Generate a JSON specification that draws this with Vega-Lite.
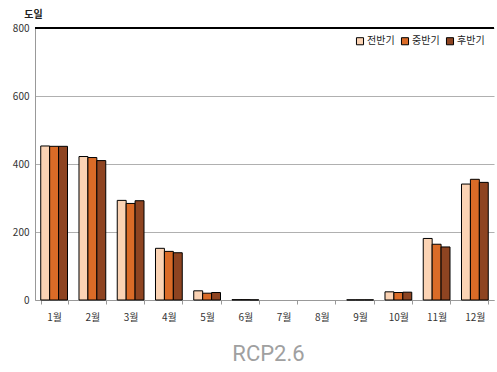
{
  "$schema": "https://vega.github.io/schema/vega-lite/v6.json",
  "width": 459,
  "height": 272,
  "autosize": {"type": "none"},
  "padding": {"left": 35, "top": 28, "right": 3, "bottom": 72},
  "background": "white",
  "config": {
    "view": {"stroke": null},
    "font": "Noto Sans CJK KR"
  },
  "title": {
    "text": "RCP2.6",
    "orient": "bottom",
    "anchor": "middle",
    "fontSize": 22,
    "font": "Roboto",
    "fontWeight": "normal",
    "color": "#a0a0a0",
    "offset": 22,
    "dx": 4
  },
  "data": {
    "values": [
      {"month": "1월", "period": "전반기", "value": 453},
      {"month": "1월", "period": "중반기", "value": 452},
      {"month": "1월", "period": "후반기", "value": 452},
      {"month": "2월", "period": "전반기", "value": 422},
      {"month": "2월", "period": "중반기", "value": 419},
      {"month": "2월", "period": "후반기", "value": 410},
      {"month": "3월", "period": "전반기", "value": 293},
      {"month": "3월", "period": "중반기", "value": 284},
      {"month": "3월", "period": "후반기", "value": 292},
      {"month": "4월", "period": "전반기", "value": 152},
      {"month": "4월", "period": "중반기", "value": 143},
      {"month": "4월", "period": "후반기", "value": 139},
      {"month": "5월", "period": "전반기", "value": 27},
      {"month": "5월", "period": "중반기", "value": 20},
      {"month": "5월", "period": "후반기", "value": 22},
      {"month": "6월", "period": "전반기", "value": 1},
      {"month": "6월", "period": "중반기", "value": 1},
      {"month": "6월", "period": "후반기", "value": 0.5},
      {"month": "7월", "period": "전반기", "value": null},
      {"month": "7월", "period": "중반기", "value": null},
      {"month": "7월", "period": "후반기", "value": null},
      {"month": "8월", "period": "전반기", "value": null},
      {"month": "8월", "period": "중반기", "value": null},
      {"month": "8월", "period": "후반기", "value": null},
      {"month": "9월", "period": "전반기", "value": 0.5},
      {"month": "9월", "period": "중반기", "value": 0.5},
      {"month": "9월", "period": "후반기", "value": 0.5},
      {"month": "10월", "period": "전반기", "value": 24},
      {"month": "10월", "period": "중반기", "value": 22},
      {"month": "10월", "period": "후반기", "value": 23},
      {"month": "11월", "period": "전반기", "value": 181},
      {"month": "11월", "period": "중반기", "value": 164},
      {"month": "11월", "period": "후반기", "value": 156},
      {"month": "12월", "period": "전반기", "value": 341},
      {"month": "12월", "period": "중반기", "value": 355},
      {"month": "12월", "period": "후반기", "value": 346}
    ]
  },
  "layer": [
    {
      "mark": {"type": "bar", "stroke": "black", "strokeWidth": 1},
      "encoding": {
        "x": {
          "field": "month",
          "type": "nominal",
          "sort": null,
          "scale": {
            "domain": ["1월", "2월", "3월", "4월", "5월", "6월", "7월", "8월", "9월", "10월", "11월", "12월"],
            "paddingInner": 0.3,
            "paddingOuter": 0.15
          },
          "axis": {
            "title": null,
            "labelAngle": 0,
            "labelFontSize": 10,
            "labelColor": "#333",
            "labelPadding": 8,
            "domainColor": "#999",
            "tickColor": "#999",
            "tickSize": 4,
            "tickBand": "extent"
          }
        },
        "xOffset": {"field": "period", "type": "nominal", "sort": ["전반기", "중반기", "후반기"]},
        "y": {
          "field": "value",
          "type": "quantitative",
          "scale": {"domain": [0, 800]},
          "axis": {
            "values": [0, 200, 400, 600, 800],
            "title": "도일",
            "titleAngle": 0,
            "titleX": -2,
            "titleY": -14,
            "titleAlign": "center",
            "titleBaseline": "middle",
            "titleFontSize": 10,
            "titleFontWeight": "bold",
            "titleColor": "#222",
            "labelFontSize": 10,
            "labelColor": "#333",
            "labelPadding": 6,
            "ticks": false,
            "domainColor": "#999",
            "gridColor": "#b0b0b0",
            "gridWidth": 1.2
          }
        },
        "color": {
          "field": "period",
          "type": "nominal",
          "sort": ["전반기", "중반기", "후반기"],
          "scale": {"domain": ["전반기", "중반기", "후반기"], "range": ["#FBD3B4", "#DA6B27", "#8E4421"]},
          "legend": {
            "title": null,
            "orient": "none",
            "legendX": 320,
            "legendY": 8,
            "direction": "horizontal",
            "symbolType": "square",
            "symbolSize": 50,
            "symbolStrokeColor": "black",
            "symbolStrokeWidth": 1,
            "labelFontSize": 10,
            "labelColor": "#222",
            "labelOffset": 2,
            "columnPadding": 4
          }
        }
      }
    },
    {
      "mark": {"type": "rule", "color": "black", "strokeWidth": 1},
      "encoding": {"y": {"datum": 800}}
    }
  ]
}
